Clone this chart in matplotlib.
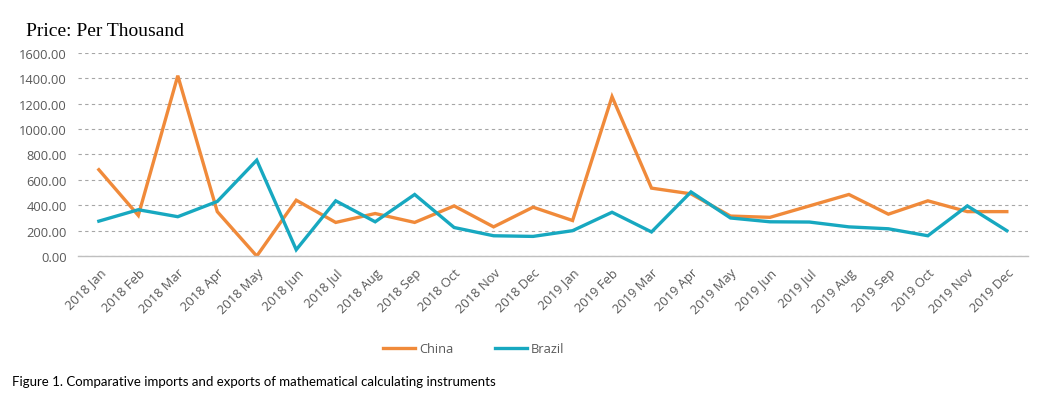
import matplotlib.pyplot as plt
from matplotlib.ticker import FormatStrFormatter

months = ['Jan', 'Feb', 'Mar', 'Apr', 'May', 'Jun',
          'Jul', 'Aug', 'Sep', 'Oct', 'Nov', 'Dec']
labels = ['2018 ' + m for m in months] + ['2019 ' + m for m in months]

china = [680, 320, 1420, 350, 0, 440, 265, 335, 265, 395, 230, 385,
         280, 1255, 535, 490, 315, 305, 395, 485, 330, 435, 350, 350]
brazil = [275, 365, 310, 430, 755, 50, 435, 270, 485, 225, 160, 155,
          200, 345, 190, 505, 300, 270, 268, 230, 215, 160, 395, 200]

plt.rcParams['font.family'] = ['Open Sans', 'DejaVu Sans']

fig = plt.figure(figsize=(10.53, 4.14), dpi=100)
ax = fig.add_axes([0.074, 0.379, 0.902, 0.491])

x = range(len(labels))
ax.plot(x, china, color='#F08A3A', lw=2.4, label='China', solid_joinstyle='miter')
ax.plot(x, brazil, color='#17A8C0', lw=2.4, label='Brazil', solid_joinstyle='miter')

ax.set_xlim(-0.53, len(labels) - 1 + 0.53)
ax.set_ylim(0, 1600)
ax.set_yticks(range(0, 1601, 200))
ax.yaxis.set_major_formatter(FormatStrFormatter('%.2f'))
ax.set_xticks(list(x))
ax.set_xticklabels(labels, rotation=45, ha='right', rotation_mode='anchor')
ax.tick_params(axis='both', length=0, labelsize=9.3, colors='#595959')
ax.tick_params(axis='x', pad=7)
ax.tick_params(axis='y', pad=8)

ax.grid(axis='y', color='#A6A6A6', ls=(0, (3, 3)), lw=0.8)
ax.set_axisbelow(True)
for s in ['left', 'right', 'top']:
    ax.spines[s].set_visible(False)
ax.spines['bottom'].set_color('#BFBFBF')
ax.spines['bottom'].set_linewidth(1)

fig.text(0.025, 0.925, 'Price: Per Thousand', family=['Liberation Serif'],
         fontsize=14, color='black', va='center')

fig.legend(loc='center', bbox_to_anchor=(0.45, 0.155), ncol=2, frameon=False,
           fontsize=9.3, handlelength=2.5, columnspacing=3.2, handletextpad=0.3,
           labelcolor='#595959')

fig.text(0.011, 0.077, 'Figure 1. Comparative imports and exports of mathematical calculating instruments',
         fontsize=9.5, color='black', family=['Lato', 'DejaVu Sans'], va='center')

fig.savefig('out.png', dpi=100)
